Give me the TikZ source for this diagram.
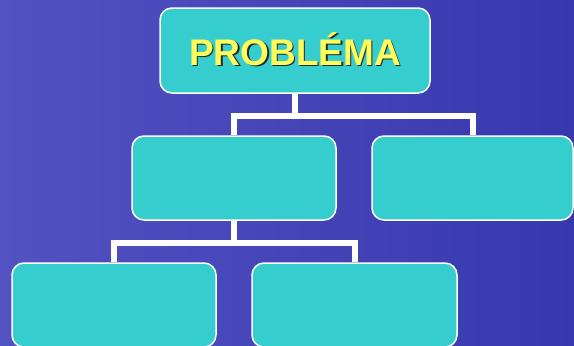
\documentclass[tikz,border=0pt]{standalone}
\usepackage{fontspec}
\setmainfont{Liberation Sans}
\usetikzlibrary{positioning,calc}
\definecolor{SlideBlue}{RGB}{56,56,174}
\definecolor{SlideBlueLight}{RGB}{82,82,194}
\definecolor{BoxTeal}{RGB}{53,205,205}
\definecolor{TitleYellow}{RGB}{255,255,90}
\definecolor{ShadowDark}{RGB}{40,40,40}
\newcommand{\shadowed}[1]{\makebox[0pt][l]{\kern1.6pt\raisebox{-1.6pt}{\color{ShadowDark}#1}}#1}
\tikzset{
  orgbox/.style={draw=white,fill=BoxTeal,line width=1.5pt,rounded corners=12pt,minimum width=204pt,minimum height=84pt,inner sep=0pt},
  topbox/.style={orgbox,minimum width=270pt,minimum height=85pt},
  link/.style={draw=white,line width=6pt,line join=miter},
  titletext/.style={font=\bfseries\fontsize{37}{40}\selectfont,text=TitleYellow,anchor=base,inner sep=0pt}
}
\begin{document}
\begin{tikzpicture}[x=1pt,y=-1pt]
\useasboundingbox (0,0) rectangle (574,346);
\clip (0,0) rectangle (574,346);
\shade[left color=SlideBlueLight,right color=SlideBlue] (0,0) rectangle (574,346);

% boxes
\node[topbox] (prob) at (295,50.5) {};
\node[orgbox] (midl) at (234,178) {};
\node[orgbox,minimum width=201pt] (midr) at (472.5,178) {};
\node[orgbox] (botl) at (114,305) {};
\node[orgbox,minimum width=205pt] (botr) at (354.5,305) {};

% connectors
\coordinate (j1) at ($(prob.south)+(0,22)$);
\coordinate (j2) at ($(midl.south)+(0,22)$);
\draw[link] (prob.south) -- (j1);
\draw[link] (midl.north) |- (j1) -| (midr.north);
\draw[link] (midl.south) -- (j2);
\draw[link] (botl.north) |- (j2) -| (botr.north);

% title
\node[titletext] (probtitle) at ($(prob.center)+(0,14.5)$) {\shadowed{PROBLÉMA}};
\end{tikzpicture}
\end{document}
